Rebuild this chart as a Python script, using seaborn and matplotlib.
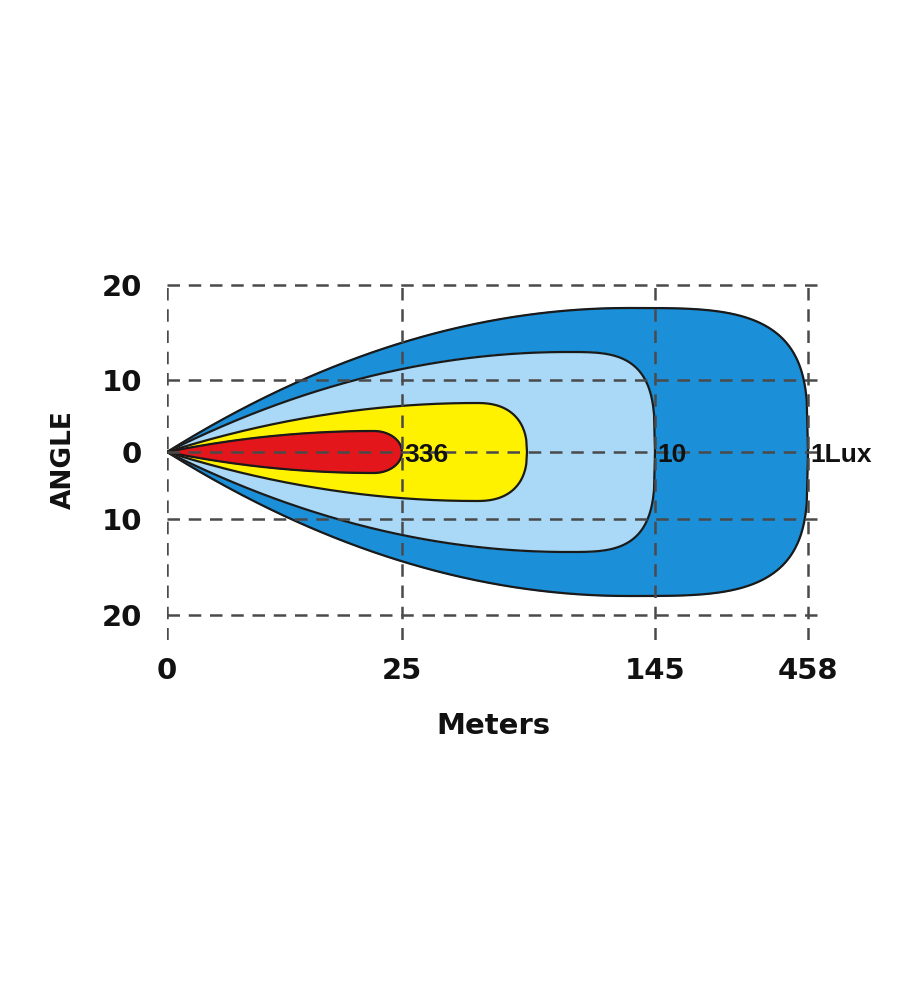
import numpy as np
import pandas as pd
import matplotlib
matplotlib.use("Agg")
import matplotlib.pyplot as plt
import seaborn as sns

# tick labels and their positions on the (non-linear) drawing scale
x_tick_labels = ["0", "25", "145", "458"]
x_tick_pos = [0, 235, 488, 641]
y_tick_labels = ["20", "10", "0", "10", "20"]
y_tick_pos = [167, 72, 0, -67, -163]

# isolux contours: reach (on drawing scale), half-width, peak fraction, end bluntness
contour_names = ["1Lux", "10", "yellow", "336"]
contour_reach = [641, 488, 360, 235]
contour_halfwidth = [144, 100, 49, 21]
contour_peak = [0.72, 0.82, 0.86, 0.88]
contour_end = [3.6, 3.4, 2.4, 2.0]
contour_colors = ["#1b8fd8", "#a9d9f6", "#fff200", "#e3161b"]
contour_labels = ["1Lux", "10", "", "336"]

sns.set_style("white")
plt.rcParams["font.family"] = ["Liberation Sans", "DejaVu Sans"]

fig = plt.figure(figsize=(9.12, 10), dpi=100)
ax = fig.add_axes([167 / 912, 0.36, 653 / 912, 0.36])
ax.set_xlim(0, 653)
ax.set_ylim(-188, 172)

def profile(L, W, p, n, num=500):
    u = np.linspace(0, 1, num)
    f = np.where(u < p, 1 - (1 - u / p) ** 2,
                 np.clip(1 - (np.clip(u - p, 0, None) / (1 - p)) ** n, 0, 1) ** (1 / n))
    return u * L, W * f

for i, name in enumerate(contour_names):
    x, w = profile(contour_reach[i], contour_halfwidth[i], contour_peak[i], contour_end[i])
    xs = np.concatenate([x, x[::-1]])
    ys = np.concatenate([w, -w[::-1]])
    ax.fill(xs, ys, color=contour_colors[i], zorder=1 + i)
    df = pd.DataFrame({"x": xs, "y": ys})
    sns.lineplot(data=df, x="x", y="y", sort=False, color="#1a1a1a", lw=1.6,
                 ax=ax, zorder=1.5 + i, estimator=None)
    if contour_labels[i]:
        ax.text(contour_reach[i] + 2, -3, contour_labels[i], fontsize=19, fontweight="bold",
                ha="left", va="center", color="#111111", zorder=20)

for xp in x_tick_pos:
    ax.plot([xp, xp], [-188, 167], ls=(0, (5, 3.5)), color="#4a4a4a", lw=1.8, zorder=10)
for yp in y_tick_pos:
    ax.plot([0, 653], [yp, yp], ls=(0, (5, 3.5)), color="#4a4a4a", lw=1.8, zorder=10)

ax.set_xticks(x_tick_pos)
ax.set_xticklabels(x_tick_labels, fontsize=21, fontweight="bold", family="DejaVu Sans", color="#111111")
ax.set_yticks(y_tick_pos)
ax.set_yticklabels(y_tick_labels, fontsize=21, fontweight="bold", family="DejaVu Sans", color="#111111")
ax.tick_params(length=0, pad=12)
ax.tick_params(axis="y", pad=18)
ax.set_xlabel("Meters", fontsize=21, fontweight="bold", family="DejaVu Sans", labelpad=20, color="#111111")
ax.set_ylabel("ANGLE", fontsize=19, fontweight="bold", family="DejaVu Sans", labelpad=18, color="#111111")
for s in ax.spines.values():
    s.set_visible(False)
ax.set_facecolor("white")

fig.savefig("out.png", dpi=100, facecolor="white")
